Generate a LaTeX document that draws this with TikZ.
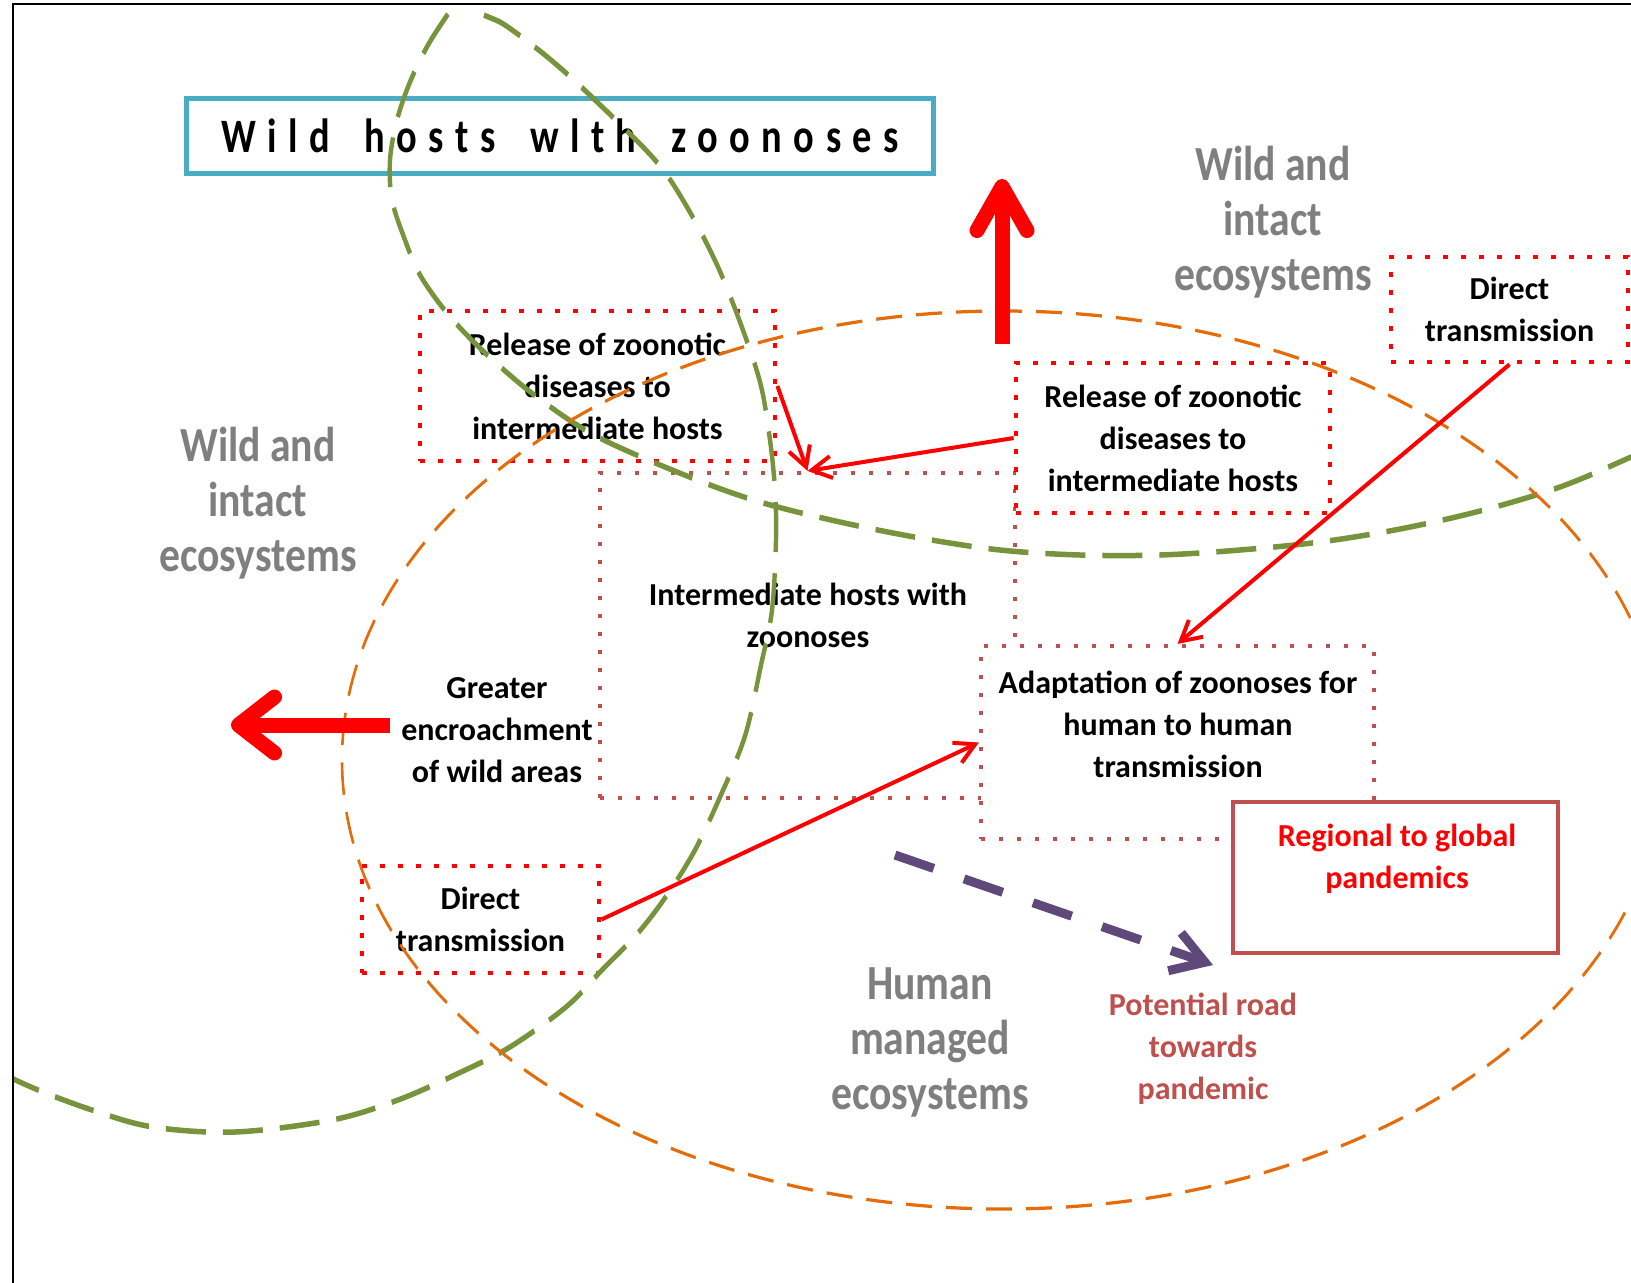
\documentclass[tikz,border=0pt]{standalone}
\usepackage{fontspec}
\setmainfont{Carlito}
\usepackage{graphicx}
\usetikzlibrary{arrows.meta}

\definecolor{ecogreen}{HTML}{77933C}
\definecolor{ecoorange}{HTML}{E46C0A}
\definecolor{titleteal}{HTML}{4BACC6}
\definecolor{brick}{HTML}{C0504D}
\definecolor{roadpurple}{HTML}{5F497A}
\definecolor{lblgray}{HTML}{7F7F7F}
\definecolor{hotred}{HTML}{FF0000}

\newcommand{\wordgap}{\hspace{9pt}}

\begin{document}
\begin{tikzpicture}[x=0.5pt,y=-0.5pt,
  txt/.style={inner sep=0pt, align=center, font=\bfseries\fontsize{16}{21}\selectfont},
  redbox/.style={draw=hotred, fill=white, line width=2.4pt, dash pattern=on 2.4pt off 6.6pt, inner sep=0pt},
  brickbox/.style={draw=brick, fill=white, line width=2.1pt, dash pattern=on 2.1pt off 6.9pt, inner sep=0pt},
  graylbl/.style={inner sep=0pt, text=lblgray, font=\bfseries\fontsize{24.5}{27.5}\selectfont},
  ecoline/.style={draw=ecogreen, line width=2.2pt, dash pattern=on 20pt off 8.5pt},
  humanline/.style={draw=ecoorange, line width=1.3pt, dash pattern=on 13pt off 7pt},
  thinarrow/.style={draw=hotred, line width=2pt, -{Straight Barb[length=10pt,width=11pt]}},
  bigarrow/.style={draw=hotred, line width=7.5pt},
  roadarrow/.style={draw=roadpurple, line width=4.5pt, dash pattern=on 20.5pt off 16pt,
    -{Straight Barb[length=16pt,width=20pt]}}
]
\fill[white] (0,0) rectangle (1631,1282);
\useasboundingbox (0,0) rectangle (1631,1282);

% ---------- boxes and texts ----------
\node[draw=titleteal, line width=2.5pt, inner sep=0pt,
      minimum width=373.75pt, minimum height=37.25pt,
      font=\bfseries\fontsize{24}{28}\selectfont] (title) at (560,136)
  {\scalebox{0.8}[1]{\addfontfeatures{LetterSpace=30}Wild\wordgap{} hosts\wordgap{} wlth\wordgap{} zoonoses}};

\node[brickbox, minimum width=207.5pt, minimum height=162.5pt] (interm) at (807.5,635.5) {};
\node[txt] (intermtext) at (808,615) {Intermediate hosts with\\zoonoses};

\node[redbox, txt, minimum width=177.5pt, minimum height=75pt] (rel1) at (597.5,386)
  {Release of zoonotic\\diseases to\\intermediate hosts};
\node[redbox, txt, minimum width=157pt, minimum height=75pt] (rel2) at (1173,438)
  {Release of zoonotic\\diseases to\\intermediate hosts};

\node[brickbox, minimum width=196.5pt, minimum height=96.5pt] (adapt) at (1177.5,742.5) {};
\node[txt] (adapttext) at (1178,724) {Adaptation of zoonoses for\\human to human\\transmission};

\node[draw=brick, fill=white, line width=2pt, inner sep=0pt,
      minimum width=162.5pt, minimum height=75.5pt] (regional) at (1395.5,877.5) {};
\node[txt, text=hotred] (regionaltext) at (1397,859) {Regional to global\\pandemics};

\node[redbox, txt, minimum width=118.5pt, minimum height=52.5pt] (dirTR) at (1509.5,309.5)
  {Direct\\transmission};
\node[redbox, txt, minimum width=118.5pt, minimum height=53.5pt] (dirBL) at (480.5,919.5)
  {Direct\\transmission};

\node[txt] (encroach) at (497,730) {Greater\\encroachment\\of wild areas};
\node[txt, text=brick] (road) at (1203,1049) {Potential road\\towards\\pandemic};

\node[graylbl] (wildL) at (258,505)
  {\scalebox{0.85}[1]{\begin{tabular}{@{}c@{}}Wild and\\intact\\ecosystems\end{tabular}}};
\node[graylbl] (wildR) at (1273,224)
  {\scalebox{0.85}[1]{\begin{tabular}{@{}c@{}}Wild and\\intact\\ecosystems\end{tabular}}};
\node[graylbl] (humanlbl) at (930,1043)
  {\scalebox{0.85}[1]{\begin{tabular}{@{}c@{}}Human\\managed\\ecosystems\end{tabular}}};

% ---------- ecosystem outlines ----------
% drawn with a pen that is taller than wide: flat stretches come out
% heavier and steep stretches get longer dashes
\begin{scope}
  \clip (13,4) rectangle (1631,1282);
  \begin{scope}[y=-0.4pt, transform canvas={yscale=1.25}]
    % wild ecosystem reaching to the right
    \draw[ecoline] plot[smooth, tension=0.55] coordinates {
      (485,-40) (452,8) (428,45) (410,82) (397,120) (390,160) (392,200) (405,240)
      (420,275) (447,313) (482,350) (533,394) (596,436) (687,476) (760,502)
      (840,522) (920,538) (1000,550) (1080,555) (1160,555) (1240,550) (1320,542)
      (1400,529) (1480,511) (1560,487) (1631,457) (1700,425)};
    % wild ecosystem reaching to the lower left
    \draw[ecoline] plot[smooth, tension=0.55] coordinates {
      (450,-40) (473,7) (505,25) (551,60) (595,100) (655,160) (687,207) (718,267)
      (744,333) (761,386) (770,440) (775,490) (776,540) (772,610) (761,665)
      (745,736) (720,797) (695,850) (667,895) (638,933) (602,970) (566,1007)
      (510,1047) (459,1073) (398,1100) (332,1120) (235,1132) (153,1127) (92,1110)
      (31,1087) (-30,1058)};
    % human managed ecosystem
    \draw[humanline] (1003,760) ellipse [x radius=330.5pt, y radius=179.6pt];
  \end{scope}
\end{scope}

% ---------- arrows ----------
\coordinate (upfoot) at (1002,344);
\coordinate (uptip) at (1002,179);
\coordinate (leftfoot) at (390,725);
\coordinate (lefttip) at (231,725);
\coordinate (roadstart) at (895,855);
\coordinate (roadtip) at (1213,965);

\draw[bigarrow, -{Straight Barb[length=22pt,width=25pt,round]}] (upfoot) -- (uptip);
\draw[bigarrow, -{Straight Barb[length=18pt,width=28pt,round]}] (leftfoot) -- (lefttip);

\draw[thinarrow] (rel1.east) -- (interm.north);
\draw[thinarrow] (rel2.west) -- (interm.north);
\draw[thinarrow] (dirTR.south) -- (adapt.north);
\draw[thinarrow] (dirBL.east) -- (adapt.west);

\draw[roadarrow] (roadstart) -- (roadtip);

% ---------- frame ----------
\draw[line width=0.8pt] (13,1300) -- (13,4) -- (1650,4);
\end{tikzpicture}
\end{document}
